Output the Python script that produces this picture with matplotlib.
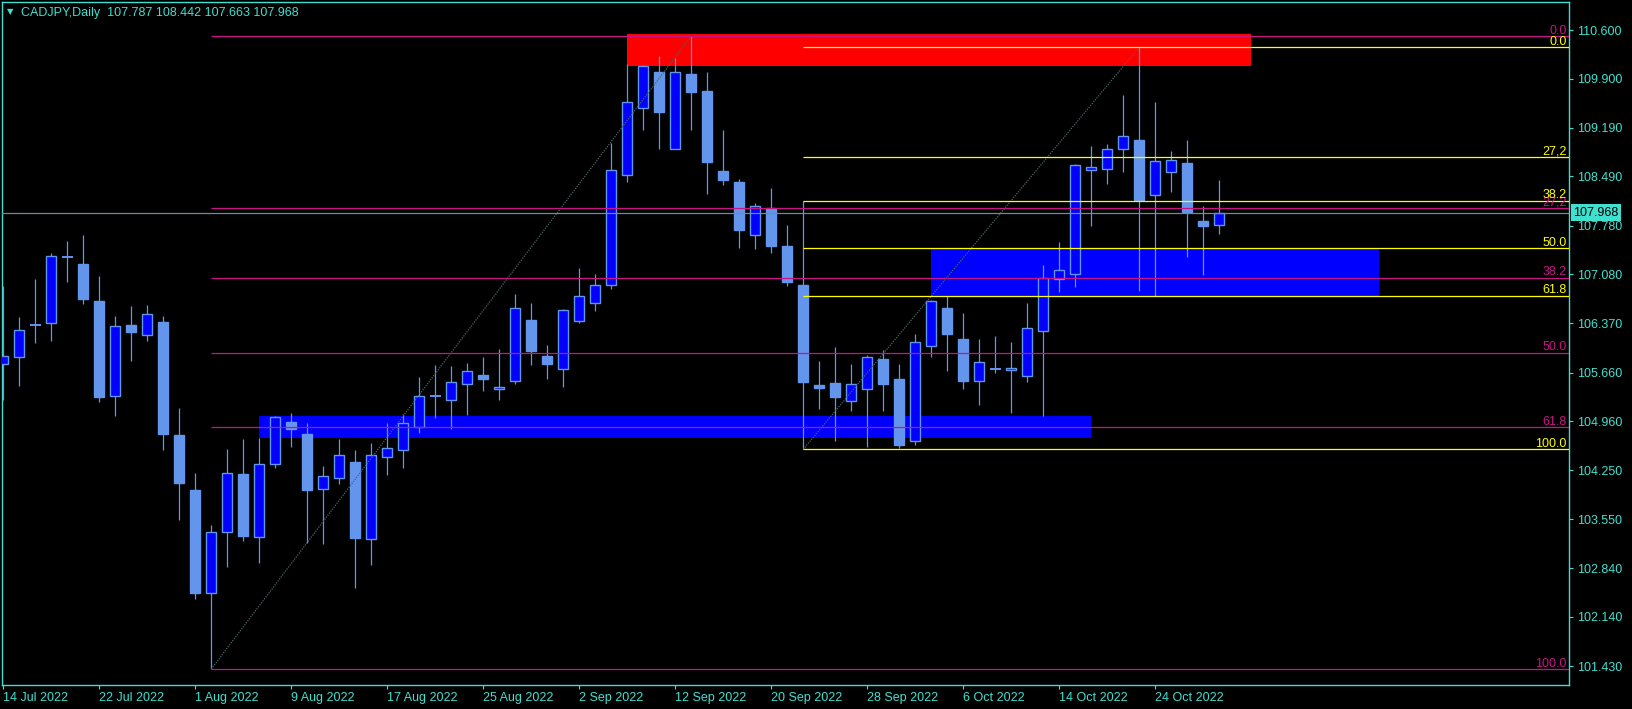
"""
CADJPY daily candles with two Fibonacci retracements and supply/demand boxes,
drawn in the MetaTrader black theme.
"""
import matplotlib
matplotlib.use("Agg")
import matplotlib.pyplot as plt
import matplotlib.transforms as mtransforms
import numpy as np
import pandas as pd

plt.rcParams["font.family"] = ["Liberation Sans", "DejaVu Sans"]

SYMBOL = "CADJPY,Daily"
DATES = pd.bdate_range("2022-07-14", "2022-10-28")

OPEN = [105.79, 105.88, 106.34, 106.37, 107.32, 107.23, 106.69, 105.32, 106.35, 106.21,
        106.39, 104.76, 103.97, 102.49, 103.37, 104.20, 103.29, 104.35, 104.95, 104.78,
        103.98, 104.14, 104.37, 103.26, 104.44, 104.54, 104.88, 105.32, 105.26, 105.49,
        105.63, 105.43, 105.54, 106.42, 105.90, 105.72, 106.41, 106.67, 106.93, 108.51,
        109.47, 109.99, 108.89, 109.97, 109.72, 108.57, 108.41, 107.64, 108.04, 107.49,
        106.92, 105.48, 105.51, 105.25, 105.43, 105.85, 105.57, 104.67, 106.04, 106.59,
        106.15, 105.54, 105.72, 105.70, 105.61, 106.26, 107.01, 107.08, 108.58, 108.59,
        108.89, 109.01, 108.22, 108.56, 108.68, 107.85, 107.787]
HIGH = [106.91, 106.46, 107.01, 107.38, 107.56, 107.64, 107.05, 106.47, 106.62, 106.64,
        106.48, 105.15, 104.21, 103.46, 104.56, 104.70, 104.72, 105.04, 105.08, 104.93,
        104.31, 104.70, 104.55, 104.64, 104.93, 105.07, 105.60, 105.77, 105.76, 105.80,
        105.89, 106.00, 106.79, 106.66, 106.06, 106.58, 107.17, 107.08, 108.97, 110.11,
        110.10, 110.23, 110.19, 110.513, 109.99, 109.16, 108.45, 108.11, 108.32, 107.79,
        108.13, 105.83, 106.03, 105.79, 105.91, 105.99, 105.79, 106.22, 106.71, 106.77,
        106.52, 106.15, 106.19, 106.10, 106.66, 107.21, 107.54, 108.67, 108.93, 108.96,
        109.66, 110.351, 109.56, 108.86, 109.01, 108.06, 108.442]
LOW = [105.26, 105.47, 106.09, 106.12, 106.96, 106.65, 105.24, 105.04, 105.83, 106.12,
       104.55, 103.53, 102.40, 101.387, 102.86, 103.24, 102.92, 104.28, 104.59, 103.21,
       103.19, 104.06, 102.56, 102.88, 104.18, 104.28, 104.79, 105.00, 104.85, 105.05,
       105.40, 105.26, 105.49, 105.77, 105.57, 105.46, 106.38, 106.55, 106.86, 108.41,
       109.16, 108.89, 108.89, 109.16, 108.24, 108.36, 107.46, 107.45, 107.39, 106.91,
       104.555, 105.14, 104.68, 105.11, 104.59, 105.11, 104.58, 104.61, 105.89, 105.69,
       105.43, 105.20, 105.65, 105.08, 105.53, 105.04, 106.83, 106.89, 107.78, 108.38,
       108.55, 106.84, 106.77, 108.26, 107.33, 107.07, 107.663]
CLOSE = [105.90, 106.27, 106.35, 107.34, 107.33, 106.72, 105.31, 106.33, 106.25, 106.50,
         104.78, 104.07, 102.49, 103.36, 104.22, 103.30, 104.34, 105.02, 104.85, 103.97,
         104.17, 104.47, 103.28, 104.48, 104.57, 104.93, 105.33, 105.32, 105.53, 105.69,
         105.57, 105.46, 106.59, 105.97, 105.78, 106.56, 106.76, 106.93, 108.58, 109.56,
         110.08, 109.42, 109.99, 109.70, 108.70, 108.44, 107.71, 108.06, 107.48, 106.96,
         105.52, 105.44, 105.31, 105.49, 105.88, 105.50, 104.61, 106.10, 106.69, 106.22,
         105.54, 105.82, 105.72, 105.73, 106.30, 107.02, 107.14, 108.65, 108.63, 108.89,
         109.07, 108.15, 108.71, 108.72, 107.97, 107.78, 107.968]

PRICE_TICKS = [110.600, 109.900, 109.190, 108.490, 107.780, 107.080, 106.370,
               105.660, 104.960, 104.250, 103.550, 102.840, 102.140, 101.430]

FIB_LEVELS = [0.0, 27.2, 38.2, 50.0, 61.8, 100.0]
FIB_TEXT = ["0.0", "27,2", "38.2", "50.0", "61.8", "100.0"]
FIB_MAGENTA = (13, 43)   # bar of swing low, bar of swing high
FIB_YELLOW = (50, 71)

# boxes: first bar, last bar, bottom price, top price
ZONE_RED = (39, 78, 110.085, 110.542)
ZONE_BLUE_LOW = (16, 68, 104.722, 105.035)
ZONE_BLUE_HIGH = (58, 86, 106.765, 107.445)

FG = "#40E0D0"
BULL = "#0000FF"
BEAR = "#6495ED"
MAGENTA = "#C71585"
YELLOW = "#FFFF00"
BID = "#778899"
DIAG = "#4a6464"

W, H = 1633, 709
fig = plt.figure(figsize=(W / 100, H / 100), dpi=100, facecolor="black")
ax = fig.add_axes([2 / W, 24 / H, 1567 / W, 683 / H], facecolor="black")

x = np.arange(len(OPEN))
o, h, l, c = map(np.array, (OPEN, HIGH, LOW, CLOSE))
XMAX = 97.86
ax.set_xlim(-0.08, XMAX)
ax.set_ylim(101.157, 111.004)

# background boxes
for (b0, b1, p0, p1), col in ((ZONE_RED, "#FF0000"), (ZONE_BLUE_LOW, BULL),
                              (ZONE_BLUE_HIGH, BULL)):
    ax.fill_between([b0, b1], p0, p1, color=col, lw=0, zorder=1)

# candles
ax.vlines(x, l, h, color=BEAR, lw=0.9, zorder=3)
bull = c > o
doji = np.abs(c - o) < 0.02
body = ~doji
ax.bar(x[body & bull], (c - o)[body & bull], bottom=o[body & bull], width=0.6,
       color=BULL, edgecolor=BEAR, linewidth=1.0, zorder=4)
ax.bar(x[body & ~bull], (o - c)[body & ~bull], bottom=c[body & ~bull], width=0.6,
       color=BEAR, edgecolor=BEAR, linewidth=1.0, zorder=4)
ax.hlines(c[doji], x[doji] - 0.33, x[doji] + 0.33, color=BEAR, lw=1.4, zorder=4)

# fibonacci retracements
label_tr = mtransforms.blended_transform_factory(ax.transAxes, ax.transData)
for (i_lo, i_hi), col in ((FIB_MAGENTA, MAGENTA), (FIB_YELLOW, YELLOW)):
    lo, hi = l[i_lo], h[i_hi]
    ax.plot([i_lo, i_hi], [lo, hi], color=DIAG, lw=0.9, ls=(0, (1, 1)), zorder=5)
    for lev, txt in zip(FIB_LEVELS, FIB_TEXT):
        price = hi - (hi - lo) * lev / 100.0
        ax.hlines(price, i_lo, XMAX, color=col, lw=0.9, zorder=5)
        ax.annotate(txt, xy=(1.0, price), xycoords=label_tr, xytext=(-1.5, 1.8),
                    textcoords="offset points", ha="right", va="baseline",
                    color=col, fontsize=9, zorder=6)

# bid line + price tag
ax.axhline(c[-1], color=BID, lw=0.9, zorder=5)
ax.annotate(f"{c[-1]:.3f}", xy=(1.0, c[-1]), xycoords=label_tr, xytext=(3, 0),
            textcoords="offset points", ha="left", va="center", color="black",
            fontsize=9, annotation_clip=False,
            bbox=dict(boxstyle="square,pad=0.2", fc=FG, ec="none"))

# axes styling
for sp in ax.spines.values():
    sp.set_color(FG)
    sp.set_linewidth(1.0)
ax.yaxis.tick_right()
ax.set_yticks(PRICE_TICKS)
ax.set_yticklabels([f"{p:.3f}" for p in PRICE_TICKS])
tick_idx = list(range(0, len(DATES), 6))
ax.set_xticks(tick_idx)
ax.set_xticklabels([f"{DATES[i].day} {DATES[i]:%b %Y}" for i in tick_idx], ha="left")
ax.tick_params(colors=FG, labelsize=9, length=3, width=0.8, pad=3)
ax.tick_params(axis="x", pad=2)

# header
fig.text(7 / W, 1 - 12 / H, "\u25bc", color=FG, fontsize=6, va="center",
         family=["DejaVu Sans"])
fig.text(21 / W, 1 - 13 / H,
         f"{SYMBOL}  {OPEN[-1]:.3f} {HIGH[-1]:.3f} {LOW[-1]:.3f} {CLOSE[-1]:.3f}",
         color=FG, fontsize=9, va="center")

fig.savefig("out.png", dpi=100, facecolor="black")
